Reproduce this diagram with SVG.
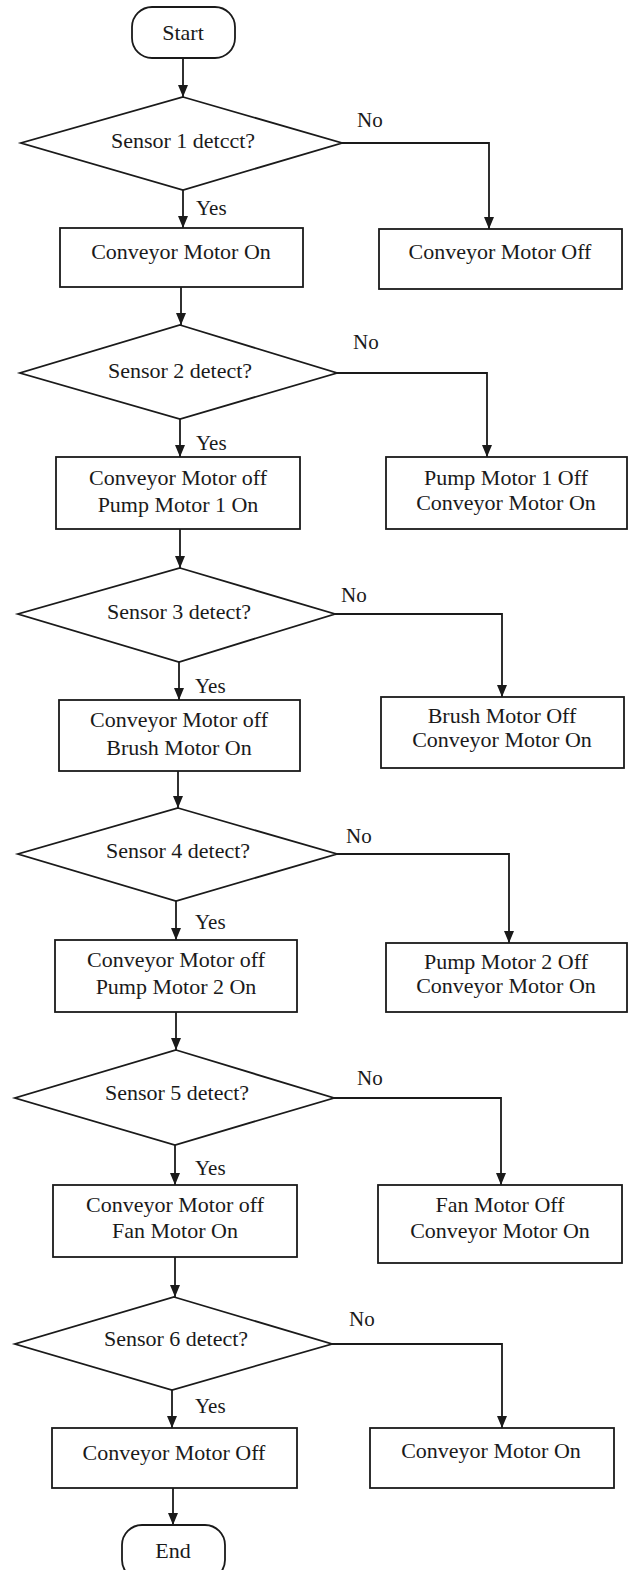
<svg xmlns="http://www.w3.org/2000/svg" width="629" height="1570" viewBox="0 0 629 1570">
<style>
.s{fill:#fff;stroke:#1a1a1a;stroke-width:1.8}
.t{font-family:"Liberation Serif","Times New Roman",serif;font-size:22px;fill:#1a1a1a;text-anchor:middle}
.l{font-family:"Liberation Serif","Times New Roman",serif;font-size:21px;fill:#1a1a1a}
.c{fill:none;stroke:#1a1a1a;stroke-width:1.8}
</style>
<defs>
<marker id="ah" viewBox="0 0 12 10" refX="12" refY="5" markerWidth="12" markerHeight="10" markerUnits="userSpaceOnUse" orient="auto">
<path d="M0,0 L12,5 L0,10 z" fill="#1a1a1a"/>
</marker>
</defs>
<rect width="629" height="1570" fill="#fff"/>
<g id="connectors">
<path class="c" d="M183,58 V97" marker-end="url(#ah)"/>
<path class="c" d="M342,143 H489 V229" marker-end="url(#ah)"/>
<path class="c" d="M183,190 V228" marker-end="url(#ah)"/>
<path class="c" d="M181,287 V325" marker-end="url(#ah)"/>
<path class="c" d="M337,373 H487 V457" marker-end="url(#ah)"/>
<path class="c" d="M180,419 V457" marker-end="url(#ah)"/>
<path class="c" d="M180,529 V568" marker-end="url(#ah)"/>
<path class="c" d="M335,614 H502 V697" marker-end="url(#ah)"/>
<path class="c" d="M179,662 V700" marker-end="url(#ah)"/>
<path class="c" d="M178,771 V808" marker-end="url(#ah)"/>
<path class="c" d="M337,854 H509 V943" marker-end="url(#ah)"/>
<path class="c" d="M176,901 V940" marker-end="url(#ah)"/>
<path class="c" d="M176,1012 V1050" marker-end="url(#ah)"/>
<path class="c" d="M334,1098 H501 V1185" marker-end="url(#ah)"/>
<path class="c" d="M175,1145 V1185" marker-end="url(#ah)"/>
<path class="c" d="M175,1257 V1297" marker-end="url(#ah)"/>
<path class="c" d="M332,1344 H502 V1428" marker-end="url(#ah)"/>
<path class="c" d="M172,1390 V1428" marker-end="url(#ah)"/>
<path class="c" d="M173,1488 V1525" marker-end="url(#ah)"/>
<text class="l" x="357" y="127">No</text>
<text class="l" x="196" y="215">Yes</text>
<text class="l" x="353" y="349">No</text>
<text class="l" x="196" y="450">Yes</text>
<text class="l" x="341" y="602">No</text>
<text class="l" x="195" y="693">Yes</text>
<text class="l" x="346" y="843">No</text>
<text class="l" x="195" y="929">Yes</text>
<text class="l" x="357" y="1085">No</text>
<text class="l" x="195" y="1175">Yes</text>
<text class="l" x="349" y="1326">No</text>
<text class="l" x="195" y="1413">Yes</text>
</g>
<g id="start">
<rect class="s" x="132" y="7" width="103" height="51" rx="20" ry="20"/>
<text class="t" x="183" y="40">Start</text>
</g>
<g id="d1">
<polygon class="s" points="183,97 342,143 183,190 21,143"/>
<text class="t" x="183" y="148">Sensor 1 detcct?</text>
</g>
<g id="b1y">
<rect class="s" x="60" y="228" width="243" height="59"/>
<text class="t" x="181" y="259">Conveyor Motor On</text>
</g>
<g id="b1n">
<rect class="s" x="379" y="229" width="243" height="60"/>
<text class="t" x="500" y="259">Conveyor Motor Off</text>
</g>
<g id="d2">
<polygon class="s" points="180,325 337,373 180,419 20,373"/>
<text class="t" x="180" y="378">Sensor 2 detect?</text>
</g>
<g id="b2y">
<rect class="s" x="56" y="457" width="244" height="72"/>
<text class="t" x="178" y="485">Conveyor Motor off</text>
<text class="t" x="178" y="512">Pump Motor 1 On</text>
</g>
<g id="b2n">
<rect class="s" x="386" y="457" width="241" height="72"/>
<text class="t" x="506" y="485">Pump Motor 1 Off</text>
<text class="t" x="506" y="510">Conveyor Motor On</text>
</g>
<g id="d3">
<polygon class="s" points="180,568 335,614 179,662 18,614"/>
<text class="t" x="179" y="619">Sensor 3 detect?</text>
</g>
<g id="b3y">
<rect class="s" x="59" y="700" width="241" height="71"/>
<text class="t" x="179" y="727">Conveyor Motor off</text>
<text class="t" x="179" y="755">Brush Motor On</text>
</g>
<g id="b3n">
<rect class="s" x="381" y="697" width="243" height="71"/>
<text class="t" x="502" y="723">Brush Motor Off</text>
<text class="t" x="502" y="747">Conveyor Motor On</text>
</g>
<g id="d4">
<polygon class="s" points="178,808 337,854 176,901 18,854"/>
<text class="t" x="178" y="858">Sensor 4 detect?</text>
</g>
<g id="b4y">
<rect class="s" x="55" y="940" width="242" height="72"/>
<text class="t" x="176" y="967">Conveyor Motor off</text>
<text class="t" x="176" y="994">Pump Motor 2 On</text>
</g>
<g id="b4n">
<rect class="s" x="386" y="943" width="241" height="69"/>
<text class="t" x="506" y="969">Pump Motor 2 Off</text>
<text class="t" x="506" y="993">Conveyor Motor On</text>
</g>
<g id="d5">
<polygon class="s" points="176,1050 334,1098 175,1145 15,1098"/>
<text class="t" x="177" y="1100">Sensor 5 detect?</text>
</g>
<g id="b5y">
<rect class="s" x="53" y="1185" width="244" height="72"/>
<text class="t" x="175" y="1212">Conveyor Motor off</text>
<text class="t" x="175" y="1238">Fan Motor On</text>
</g>
<g id="b5n">
<rect class="s" x="378" y="1185" width="244" height="78"/>
<text class="t" x="500" y="1212">Fan Motor Off</text>
<text class="t" x="500" y="1238">Conveyor Motor On</text>
</g>
<g id="d6">
<polygon class="s" points="174,1297 332,1344 172,1390 15,1344"/>
<text class="t" x="176" y="1346">Sensor 6 detect?</text>
</g>
<g id="b6y">
<rect class="s" x="52" y="1428" width="245" height="60"/>
<text class="t" x="174" y="1460">Conveyor Motor Off</text>
</g>
<g id="b6n">
<rect class="s" x="370" y="1428" width="244" height="60"/>
<text class="t" x="491" y="1458">Conveyor Motor On</text>
</g>
<g id="end">
<rect class="s" x="122" y="1525" width="103" height="55" rx="20" ry="20"/>
<text class="t" x="173" y="1558">End</text>
</g>
</svg>
